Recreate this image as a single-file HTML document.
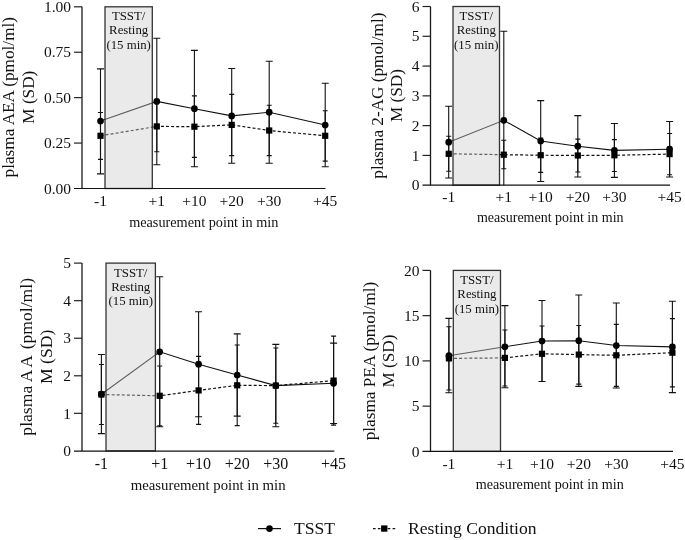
<!DOCTYPE html>
<html><head><meta charset="utf-8"><style>
html,body{margin:0;padding:0;background:#fff;width:685px;height:540px;overflow:hidden}
svg{display:block;will-change:transform;filter:blur(0.3px)}
text{font-family:"Liberation Serif", serif;fill:#111}
</style></head><body>
<svg width="685" height="540" viewBox="0 0 685 540">
<rect width="685" height="540" fill="#fff"/>
<g><polyline points="100.5,121.1 156.8,101.4 194.4,108.7 231.7,115.9 269.2,112.2 325.2,125" fill="none" stroke="#111" stroke-width="1.1"/>
<polyline points="100.5,135.8 156.8,126.4 194.4,126.7 231.7,124.9 269.2,130.5 325.2,135.8" fill="none" stroke="#111" stroke-width="1.2" stroke-dasharray="3 2.1"/>
<rect x="105" y="6.8" width="47.3" height="181.7" fill="rgb(205,205,205)" fill-opacity="0.42" stroke="#333" stroke-width="1.3"/>
<text x="128.65" y="20.2" font-size="12.8" text-anchor="middle">TSST/</text>
<text x="128.65" y="34.2" font-size="12.8" text-anchor="middle">Resting</text>
<text x="128.65" y="49" font-size="12.8" text-anchor="middle">(15 min)</text>
<path d="M82 6.8V188.5" stroke="#1a1a1a" stroke-width="1.3"/>
<path d="M74 188.5H325.5" stroke="#111" stroke-width="1.2"/>
<text x="71" y="193.7" font-size="15.5" text-anchor="end">0.00</text>
<path d="M74 143.07H82" stroke="#222" stroke-width="1.2"/>
<text x="71" y="148.27" font-size="15.5" text-anchor="end">0.25</text>
<path d="M74 97.65H82" stroke="#222" stroke-width="1.2"/>
<text x="71" y="102.85" font-size="15.5" text-anchor="end">0.50</text>
<path d="M74 52.23H82" stroke="#222" stroke-width="1.2"/>
<text x="71" y="57.43" font-size="15.5" text-anchor="end">0.75</text>
<path d="M74 6.8H82" stroke="#222" stroke-width="1.2"/>
<text x="71" y="12" font-size="15.5" text-anchor="end">1.00</text>
<text x="100.5" y="206.1" font-size="15.5" text-anchor="middle">-1</text>
<text x="156.8" y="206.1" font-size="15.5" text-anchor="middle">+1</text>
<text x="194.4" y="206.1" font-size="15.5" text-anchor="middle">+10</text>
<text x="231.7" y="206.1" font-size="15.5" text-anchor="middle">+20</text>
<text x="269.2" y="206.1" font-size="15.5" text-anchor="middle">+30</text>
<text x="325.2" y="206.1" font-size="15.5" text-anchor="middle">+45</text>
<text x="203.75" y="226.9" font-size="14.25" text-anchor="middle">measurement point in min</text>
<text transform="translate(13.9 97.2) rotate(-90)" font-size="17.2" text-anchor="middle">plasma AEA (pmol/ml)</text>
<text transform="translate(33.5 97.2) rotate(-90)" font-size="17.2" text-anchor="middle">M (SD)</text>
<path d="M100.5 68.9V173.9M97 68.9h7M97 173.9h7" stroke="#111" stroke-width="1.1" fill="none"/>
<path d="M100.5 112.5V159.4M98 112.5h5M98 159.4h5" stroke="#111" stroke-width="1.1" fill="none"/>
<path d="M156.8 38.3V164.7M153.3 38.3h7M153.3 164.7h7" stroke="#111" stroke-width="1.1" fill="none"/>
<path d="M156.8 101.1V151.7M154.3 101.1h5M154.3 151.7h5" stroke="#111" stroke-width="1.1" fill="none"/>
<path d="M194.4 50.4V166.8M190.9 50.4h7M190.9 166.8h7" stroke="#111" stroke-width="1.1" fill="none"/>
<path d="M194.4 95.9V157.4M191.9 95.9h5M191.9 157.4h5" stroke="#111" stroke-width="1.1" fill="none"/>
<path d="M231.7 68.5V163.2M228.2 68.5h7M228.2 163.2h7" stroke="#111" stroke-width="1.1" fill="none"/>
<path d="M231.7 94.4V155.6M229.2 94.4h5M229.2 155.6h5" stroke="#111" stroke-width="1.1" fill="none"/>
<path d="M269.2 61.3V163.2M265.7 61.3h7M265.7 163.2h7" stroke="#111" stroke-width="1.1" fill="none"/>
<path d="M269.2 105.3V155.6M266.7 105.3h5M266.7 155.6h5" stroke="#111" stroke-width="1.1" fill="none"/>
<path d="M325.2 83.2V166.8M321.7 83.2h7M321.7 166.8h7" stroke="#111" stroke-width="1.1" fill="none"/>
<path d="M325.2 110.7V161.1M322.7 110.7h5M322.7 161.1h5" stroke="#111" stroke-width="1.1" fill="none"/>
<circle cx="100.5" cy="121.1" r="3.35" fill="#000"/>
<circle cx="156.8" cy="101.4" r="3.35" fill="#000"/>
<circle cx="194.4" cy="108.7" r="3.35" fill="#000"/>
<circle cx="231.7" cy="115.9" r="3.35" fill="#000"/>
<circle cx="269.2" cy="112.2" r="3.35" fill="#000"/>
<circle cx="325.2" cy="125" r="3.35" fill="#000"/>
<rect x="97.4" y="132.7" width="6.2" height="6.2" fill="#000"/>
<rect x="153.7" y="123.3" width="6.2" height="6.2" fill="#000"/>
<rect x="191.3" y="123.6" width="6.2" height="6.2" fill="#000"/>
<rect x="228.6" y="121.8" width="6.2" height="6.2" fill="#000"/>
<rect x="266.1" y="127.4" width="6.2" height="6.2" fill="#000"/>
<rect x="322.1" y="132.7" width="6.2" height="6.2" fill="#000"/></g>
<g><polyline points="448.7,142.2 503.8,120.3 540.7,141 577.8,146.2 614.4,150.4 669.6,149.2" fill="none" stroke="#111" stroke-width="1.1"/>
<polyline points="448.7,153.8 503.8,154.7 540.7,155.2 577.8,155.5 614.4,155.3 669.6,154.1" fill="none" stroke="#111" stroke-width="1.2" stroke-dasharray="3 2.1"/>
<rect x="453" y="6.5" width="46.5" height="178.7" fill="rgb(205,205,205)" fill-opacity="0.42" stroke="#333" stroke-width="1.3"/>
<text x="476.25" y="19.9" font-size="12.8" text-anchor="middle">TSST/</text>
<text x="476.25" y="33.9" font-size="12.8" text-anchor="middle">Resting</text>
<text x="476.25" y="48.7" font-size="12.8" text-anchor="middle">(15 min)</text>
<path d="M430.5 6.5V185.2" stroke="#1a1a1a" stroke-width="1.3"/>
<path d="M422.5 185.2H670" stroke="#111" stroke-width="1.2"/>
<text x="419.5" y="190.4" font-size="15.5" text-anchor="end">0</text>
<path d="M422.5 155.42H430.5" stroke="#222" stroke-width="1.2"/>
<text x="419.5" y="160.62" font-size="15.5" text-anchor="end">1</text>
<path d="M422.5 125.63H430.5" stroke="#222" stroke-width="1.2"/>
<text x="419.5" y="130.83" font-size="15.5" text-anchor="end">2</text>
<path d="M422.5 95.85H430.5" stroke="#222" stroke-width="1.2"/>
<text x="419.5" y="101.05" font-size="15.5" text-anchor="end">3</text>
<path d="M422.5 66.07H430.5" stroke="#222" stroke-width="1.2"/>
<text x="419.5" y="71.27" font-size="15.5" text-anchor="end">4</text>
<path d="M422.5 36.28H430.5" stroke="#222" stroke-width="1.2"/>
<text x="419.5" y="41.48" font-size="15.5" text-anchor="end">5</text>
<path d="M422.5 6.5H430.5" stroke="#222" stroke-width="1.2"/>
<text x="419.5" y="11.7" font-size="15.5" text-anchor="end">6</text>
<text x="448.7" y="202.2" font-size="15.5" text-anchor="middle">-1</text>
<text x="503.8" y="202.2" font-size="15.5" text-anchor="middle">+1</text>
<text x="540.7" y="202.2" font-size="15.5" text-anchor="middle">+10</text>
<text x="577.8" y="202.2" font-size="15.5" text-anchor="middle">+20</text>
<text x="614.4" y="202.2" font-size="15.5" text-anchor="middle">+30</text>
<text x="669.6" y="202.2" font-size="15.5" text-anchor="middle">+45</text>
<text x="550.25" y="222" font-size="14" text-anchor="middle">measurement point in min</text>
<text transform="translate(383.2 95.6) rotate(-90)" font-size="17.2" text-anchor="middle">plasma 2-AG (pmol/ml)</text>
<text transform="translate(402.1 95.6) rotate(-90)" font-size="17.2" text-anchor="middle">M (SD)</text>
<path d="M448.7 106.3V178M445.2 106.3h7M445.2 178h7" stroke="#111" stroke-width="1.1" fill="none"/>
<path d="M448.7 136.3V171.3M446.2 136.3h5M446.2 171.3h5" stroke="#111" stroke-width="1.1" fill="none"/>
<path d="M503.8 31.3V185.2M500.3 31.3h7" stroke="#111" stroke-width="1.1" fill="none"/>
<path d="M503.8 140.3V168.7M501.3 140.3h5M501.3 168.7h5" stroke="#111" stroke-width="1.1" fill="none"/>
<path d="M540.7 100.6V181.5M537.2 100.6h7M537.2 181.5h7" stroke="#111" stroke-width="1.1" fill="none"/>
<path d="M540.7 138V172.4M538.2 138h5M538.2 172.4h5" stroke="#111" stroke-width="1.1" fill="none"/>
<path d="M577.8 115.6V177M574.3 115.6h7M574.3 177h7" stroke="#111" stroke-width="1.1" fill="none"/>
<path d="M577.8 139.1V172M575.3 139.1h5M575.3 172h5" stroke="#111" stroke-width="1.1" fill="none"/>
<path d="M614.4 123.5V177.4M610.9 123.5h7M610.9 177.4h7" stroke="#111" stroke-width="1.1" fill="none"/>
<path d="M614.4 139.6V171.5M611.9 139.6h5M611.9 171.5h5" stroke="#111" stroke-width="1.1" fill="none"/>
<path d="M669.6 121.5V177M666.1 121.5h7M666.1 177h7" stroke="#111" stroke-width="1.1" fill="none"/>
<path d="M669.6 133.5V174.8M667.1 133.5h5M667.1 174.8h5" stroke="#111" stroke-width="1.1" fill="none"/>
<circle cx="448.7" cy="142.2" r="3.35" fill="#000"/>
<circle cx="503.8" cy="120.3" r="3.35" fill="#000"/>
<circle cx="540.7" cy="141" r="3.35" fill="#000"/>
<circle cx="577.8" cy="146.2" r="3.35" fill="#000"/>
<circle cx="614.4" cy="150.4" r="3.35" fill="#000"/>
<circle cx="669.6" cy="149.2" r="3.35" fill="#000"/>
<rect x="445.6" y="150.7" width="6.2" height="6.2" fill="#000"/>
<rect x="500.7" y="151.6" width="6.2" height="6.2" fill="#000"/>
<rect x="537.6" y="152.1" width="6.2" height="6.2" fill="#000"/>
<rect x="574.7" y="152.4" width="6.2" height="6.2" fill="#000"/>
<rect x="611.3" y="152.2" width="6.2" height="6.2" fill="#000"/>
<rect x="666.5" y="151" width="6.2" height="6.2" fill="#000"/></g>
<g><polyline points="101.4,394.2 159.7,351.8 198.6,364.2 237.2,375 275.8,385.6 333.6,383.3" fill="none" stroke="#111" stroke-width="1.1"/>
<polyline points="101.4,394.5 159.7,395.8 198.6,390.4 237.2,385.3 275.8,385.6 333.6,380.6" fill="none" stroke="#111" stroke-width="1.2" stroke-dasharray="3 2.1"/>
<rect x="106" y="263.1" width="49.4" height="187.8" fill="rgb(205,205,205)" fill-opacity="0.42" stroke="#333" stroke-width="1.3"/>
<text x="130.7" y="276.5" font-size="12.8" text-anchor="middle">TSST/</text>
<text x="130.7" y="290.5" font-size="12.8" text-anchor="middle">Resting</text>
<text x="130.7" y="305.3" font-size="12.8" text-anchor="middle">(15 min)</text>
<path d="M82 263.1V450.9" stroke="#1a1a1a" stroke-width="1.3"/>
<path d="M74 451.1H334.3" stroke="#111" stroke-width="1.2"/>
<text x="71" y="456.1" font-size="15.5" text-anchor="end">0</text>
<path d="M74 413.34H82" stroke="#222" stroke-width="1.2"/>
<text x="71" y="418.54" font-size="15.5" text-anchor="end">1</text>
<path d="M74 375.78H82" stroke="#222" stroke-width="1.2"/>
<text x="71" y="380.98" font-size="15.5" text-anchor="end">2</text>
<path d="M74 338.22H82" stroke="#222" stroke-width="1.2"/>
<text x="71" y="343.42" font-size="15.5" text-anchor="end">3</text>
<path d="M74 300.66H82" stroke="#222" stroke-width="1.2"/>
<text x="71" y="305.86" font-size="15.5" text-anchor="end">4</text>
<path d="M74 263.1H82" stroke="#222" stroke-width="1.2"/>
<text x="71" y="268.3" font-size="15.5" text-anchor="end">5</text>
<text x="101.4" y="469.4" font-size="16" text-anchor="middle">-1</text>
<text x="159.7" y="469.4" font-size="16" text-anchor="middle">+1</text>
<text x="198.6" y="469.4" font-size="16" text-anchor="middle">+10</text>
<text x="237.2" y="469.4" font-size="16" text-anchor="middle">+20</text>
<text x="275.8" y="469.4" font-size="16" text-anchor="middle">+30</text>
<text x="333.6" y="469.4" font-size="16" text-anchor="middle">+45</text>
<text x="208.15" y="490.4" font-size="14.8" text-anchor="middle">measurement point in min</text>
<text transform="translate(32.3 356.8) rotate(-90)" font-size="17.6" text-anchor="middle">plasma A<tspan dx="2">A</tspan><tspan dx="2.2"> (pmol/ml)</tspan></text>
<text transform="translate(52.3 356.8) rotate(-90)" font-size="17.6" text-anchor="middle">M (SD)</text>
<path d="M101.4 354.5V433.6M97.9 354.5h7M97.9 433.6h7" stroke="#111" stroke-width="1.1" fill="none"/>
<path d="M101.4 364.5V424.5M98.9 364.5h5M98.9 424.5h5" stroke="#111" stroke-width="1.1" fill="none"/>
<path d="M159.7 276.7V426.8M156.2 276.7h7M156.2 426.8h7" stroke="#111" stroke-width="1.1" fill="none"/>
<path d="M159.7 366V425.7M157.2 366h5M157.2 425.7h5" stroke="#111" stroke-width="1.1" fill="none"/>
<path d="M198.6 311.7V416.7M195.1 311.7h7M195.1 416.7h7" stroke="#111" stroke-width="1.1" fill="none"/>
<path d="M198.6 356.4V424.4M196.1 356.4h5M196.1 424.4h5" stroke="#111" stroke-width="1.1" fill="none"/>
<path d="M237.2 333.9V416.1M233.7 333.9h7M233.7 416.1h7" stroke="#111" stroke-width="1.1" fill="none"/>
<path d="M237.2 345V425.6M234.7 345h5M234.7 425.6h5" stroke="#111" stroke-width="1.1" fill="none"/>
<path d="M275.8 344.4V426.8M272.3 344.4h7M272.3 426.8h7" stroke="#111" stroke-width="1.1" fill="none"/>
<path d="M275.8 348V423.2M273.3 348h5M273.3 423.2h5" stroke="#111" stroke-width="1.1" fill="none"/>
<path d="M333.6 343.1V423.5M330.1 343.1h7M330.1 423.5h7" stroke="#111" stroke-width="1.1" fill="none"/>
<path d="M333.6 336.1V425.1M331.1 336.1h5M331.1 425.1h5" stroke="#111" stroke-width="1.1" fill="none"/>
<circle cx="101.4" cy="394.2" r="3.35" fill="#000"/>
<circle cx="159.7" cy="351.8" r="3.35" fill="#000"/>
<circle cx="198.6" cy="364.2" r="3.35" fill="#000"/>
<circle cx="237.2" cy="375" r="3.35" fill="#000"/>
<circle cx="275.8" cy="385.6" r="3.35" fill="#000"/>
<circle cx="333.6" cy="383.3" r="3.35" fill="#000"/>
<rect x="98.3" y="391.4" width="6.2" height="6.2" fill="#000"/>
<rect x="156.6" y="392.7" width="6.2" height="6.2" fill="#000"/>
<rect x="195.5" y="387.3" width="6.2" height="6.2" fill="#000"/>
<rect x="234.1" y="382.2" width="6.2" height="6.2" fill="#000"/>
<rect x="272.7" y="382.5" width="6.2" height="6.2" fill="#000"/>
<rect x="330.5" y="377.5" width="6.2" height="6.2" fill="#000"/></g>
<g><polyline points="448.9,355.7 504.9,346.8 542,341 578.8,340.7 616.3,345.5 672.4,346.9" fill="none" stroke="#111" stroke-width="1.1"/>
<polyline points="448.9,358.4 504.9,357.9 542,353.8 578.8,354.6 616.3,355.3 672.4,352.7" fill="none" stroke="#111" stroke-width="1.2" stroke-dasharray="3 2.1"/>
<rect x="453.3" y="270.4" width="47.2" height="181" fill="rgb(205,205,205)" fill-opacity="0.42" stroke="#333" stroke-width="1.3"/>
<text x="476.9" y="283.8" font-size="12.8" text-anchor="middle">TSST/</text>
<text x="476.9" y="297.8" font-size="12.8" text-anchor="middle">Resting</text>
<text x="476.9" y="312.6" font-size="12.8" text-anchor="middle">(15 min)</text>
<path d="M430.5 270.4V451.4" stroke="#1a1a1a" stroke-width="1.3"/>
<path d="M422.5 451.4H673" stroke="#111" stroke-width="1.2"/>
<text x="419.5" y="456.6" font-size="15.5" text-anchor="end">0</text>
<path d="M422.5 406.15H430.5" stroke="#222" stroke-width="1.2"/>
<text x="419.5" y="411.35" font-size="15.5" text-anchor="end">5</text>
<path d="M422.5 360.9H430.5" stroke="#222" stroke-width="1.2"/>
<text x="419.5" y="366.1" font-size="15.5" text-anchor="end">10</text>
<path d="M422.5 315.65H430.5" stroke="#222" stroke-width="1.2"/>
<text x="419.5" y="320.85" font-size="15.5" text-anchor="end">15</text>
<path d="M422.5 270.4H430.5" stroke="#222" stroke-width="1.2"/>
<text x="419.5" y="275.6" font-size="15.5" text-anchor="end">20</text>
<text x="448.9" y="468.9" font-size="15.5" text-anchor="middle">-1</text>
<text x="504.9" y="468.9" font-size="15.5" text-anchor="middle">+1</text>
<text x="542" y="468.9" font-size="15.5" text-anchor="middle">+10</text>
<text x="578.8" y="468.9" font-size="15.5" text-anchor="middle">+20</text>
<text x="616.3" y="468.9" font-size="15.5" text-anchor="middle">+30</text>
<text x="672.4" y="468.9" font-size="15.5" text-anchor="middle">+45</text>
<text x="549.8" y="489.4" font-size="14.15" text-anchor="middle">measurement point in min</text>
<text transform="translate(374.5 361) rotate(-90)" font-size="17.2" text-anchor="middle">plasma PEA (pmol/ml)</text>
<text transform="translate(393.9 361) rotate(-90)" font-size="17.2" text-anchor="middle">M (SD)</text>
<path d="M448.9 318.4V392.7M445.4 318.4h7M445.4 392.7h7" stroke="#111" stroke-width="1.1" fill="none"/>
<path d="M448.9 326.7V390M446.4 326.7h5M446.4 390h5" stroke="#111" stroke-width="1.1" fill="none"/>
<path d="M504.9 305.6V387.8M501.4 305.6h7M501.4 387.8h7" stroke="#111" stroke-width="1.1" fill="none"/>
<path d="M504.9 330V386M502.4 330h5M502.4 386h5" stroke="#111" stroke-width="1.1" fill="none"/>
<path d="M542 300.5V381.5M538.5 300.5h7M538.5 381.5h7" stroke="#111" stroke-width="1.1" fill="none"/>
<path d="M542 326V381.5M539.5 326h5M539.5 381.5h5" stroke="#111" stroke-width="1.1" fill="none"/>
<path d="M578.8 295V386.4M575.3 295h7M575.3 386.4h7" stroke="#111" stroke-width="1.1" fill="none"/>
<path d="M578.8 325.5V384.1M576.3 325.5h5M576.3 384.1h5" stroke="#111" stroke-width="1.1" fill="none"/>
<path d="M616.3 303V388M612.8 303h7M612.8 388h7" stroke="#111" stroke-width="1.1" fill="none"/>
<path d="M616.3 324.4V386.4M613.8 324.4h5M613.8 386.4h5" stroke="#111" stroke-width="1.1" fill="none"/>
<path d="M672.4 301.2V392.6M668.9 301.2h7M668.9 392.6h7" stroke="#111" stroke-width="1.1" fill="none"/>
<path d="M672.4 318.6V386.9M669.9 318.6h5M669.9 386.9h5" stroke="#111" stroke-width="1.1" fill="none"/>
<circle cx="448.9" cy="355.7" r="3.35" fill="#000"/>
<circle cx="504.9" cy="346.8" r="3.35" fill="#000"/>
<circle cx="542" cy="341" r="3.35" fill="#000"/>
<circle cx="578.8" cy="340.7" r="3.35" fill="#000"/>
<circle cx="616.3" cy="345.5" r="3.35" fill="#000"/>
<circle cx="672.4" cy="346.9" r="3.35" fill="#000"/>
<rect x="445.8" y="355.3" width="6.2" height="6.2" fill="#000"/>
<rect x="501.8" y="354.8" width="6.2" height="6.2" fill="#000"/>
<rect x="538.9" y="350.7" width="6.2" height="6.2" fill="#000"/>
<rect x="575.7" y="351.5" width="6.2" height="6.2" fill="#000"/>
<rect x="613.2" y="352.2" width="6.2" height="6.2" fill="#000"/>
<rect x="669.3" y="349.6" width="6.2" height="6.2" fill="#000"/></g>
<g>
<path d="M258 528.6H281" stroke="#111" stroke-width="1.2"/><circle cx="269.5" cy="528.6" r="3.35"/>
<text x="294" y="534.2" font-size="17.6">TSST</text>
<path d="M373 528.6H396" stroke="#111" stroke-width="1.3" stroke-dasharray="2.6 2.3"/><rect x="381.1" y="525.4" width="6.3" height="6.3"/>
<text x="408" y="534.2" font-size="17.6">Resting Condition</text>
</g>
</svg>
</body></html>
